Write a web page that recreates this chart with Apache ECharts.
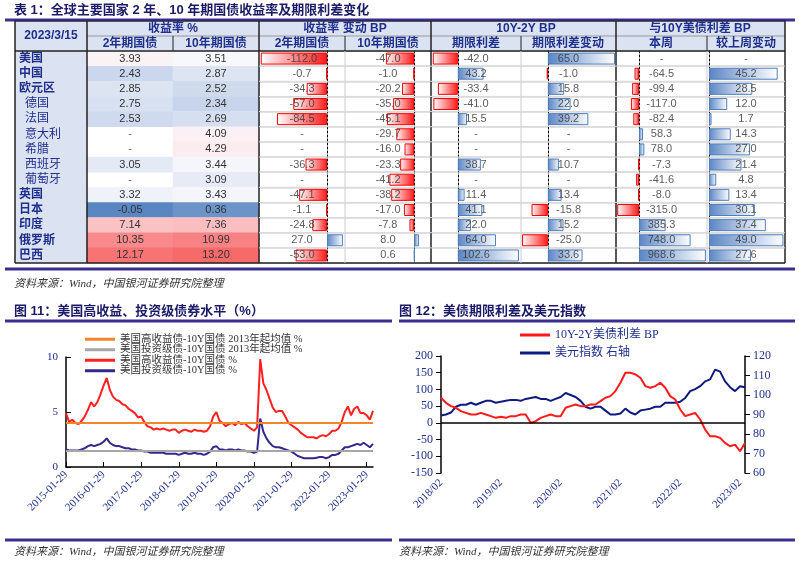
<!DOCTYPE html>
<html>
<head>
<meta charset="utf-8">
<script src="https://cdn.jsdelivr.net/npm/echarts@6/dist/echarts.min.js"></script>
<style>
  html, body { margin: 0; padding: 0; background: #fff; }
  #main { width: 799px; height: 563px; }
</style>
</head>
<body>
<div id="main"></div>
<script>
// 表1 数据
var rows = ['美国','中国','欧元区','德国','法国','意大利','希腊','西班牙','葡萄牙','英国','日本','印度','俄罗斯','巴西'];
var subRows = [3,4,5,6,7,8];
var y2 = [3.93,2.43,2.85,2.75,2.53,null,null,3.05,null,3.32,-0.05,7.14,10.35,12.17];
var y10 = [3.51,2.87,2.52,2.34,2.69,4.09,4.29,3.44,3.09,3.43,0.36,7.36,10.99,13.20];
var chg2 = [-112.0,-0.7,-34.3,-57.0,-84.5,null,null,-36.3,null,-47.1,-1.1,-24.8,27.0,-53.0];
var chg10 = [-47.0,-1.0,-20.2,-35.0,-45.1,-29.7,-16.0,-23.3,-41.2,-38.2,-17.0,-7.8,8.0,0.6];
var spread = [-42.0,43.2,-33.4,-41.0,15.5,null,null,38.7,null,11.4,41.1,22.0,64.0,102.6];
var spreadChg = [65.0,-1.0,15.8,22.0,39.2,null,null,10.7,null,13.4,-15.8,15.2,-25.0,33.6];
var vsUs = [null,-64.5,-99.4,-117.0,-82.4,58.3,78.0,-7.3,-41.6,-8.0,-315.0,385.3,748.0,968.6];
var vsUsChg = [null,45.2,28.5,12.0,1.7,14.3,27.0,21.4,4.8,13.4,30.1,37.4,49.0,27.6];

// 图11 数据 (月度, 2015-01 至 2023-03)
var hy = [4.9,4.1,4.3,4.0,3.9,4.2,4.6,5.2,5.9,5.5,5.9,6.6,
  7.4,8.1,7.0,6.4,6.1,6.0,5.7,5.6,5.3,5.1,4.9,4.5,
  4.6,4.1,3.7,3.6,3.4,3.5,3.4,3.5,3.4,3.3,3.4,3.4,
  3.1,3.3,3.4,3.3,3.2,3.4,3.3,3.3,3.2,3.3,3.7,4.6,
  5.0,4.2,4.0,3.7,3.9,4.0,3.8,4.1,3.9,4.0,3.7,3.5,
  3.3,3.6,9.8,7.6,7.0,6.2,5.4,5.0,5.1,5.1,4.6,4.0,
  3.8,3.6,3.4,3.1,2.9,2.7,2.7,2.7,2.6,2.8,2.9,2.8,
  3.0,3.3,3.3,3.5,4.1,5.0,5.5,4.7,5.3,5.5,4.9,4.9,
  4.7,4.3,5.1];
var ig = [1.6,1.5,1.5,1.5,1.5,1.6,1.7,1.9,2.0,1.9,2.0,2.1,
  2.3,2.6,2.2,2.0,1.9,1.9,1.8,1.7,1.7,1.6,1.6,1.5,
  1.5,1.4,1.4,1.3,1.3,1.3,1.3,1.3,1.2,1.2,1.2,1.2,
  1.1,1.2,1.3,1.2,1.2,1.3,1.2,1.2,1.1,1.2,1.4,1.8,
  1.9,1.6,1.6,1.5,1.6,1.6,1.5,1.6,1.5,1.5,1.4,1.4,
  1.3,1.4,4.4,3.2,2.6,2.2,1.9,1.8,1.8,1.7,1.6,1.5,
  1.4,1.2,1.0,0.9,0.8,0.8,0.8,0.8,0.85,0.9,0.9,0.8,
  0.9,1.1,1.1,1.2,1.5,1.8,1.8,1.9,2.0,2.1,2.0,2.2,
  2.0,1.8,2.1];
var hyAvg = 4.0;
var igAvg = 1.45;

// 图12 数据 (月度, 2018-02 至 2023-03)
var termSpread = [75,60,50,45,35,30,25,25,30,25,20,
  15,18,15,20,20,25,25,0,5,15,20,25,
  20,20,45,50,55,50,50,55,55,65,75,80,
  95,120,150,150,145,135,110,105,110,120,105,80,
  70,40,20,25,30,10,-20,-40,-40,-45,-60,-70,
  -65,-85,-60];
var dxy = [89.5,90,91,94,95,95,96,95,96,97,97,
  96,96.5,97,97.5,97.5,97,98,98.5,99,98,98,97,
  98,99,101,100,99,97,94,93,94,94,92,90,
  90,90.5,93,91,90,92,92.5,93,94,94,96,96,
  96,96.5,98.5,102,103,104.5,107,108,113,112,107,104,
  102,104.5,104];

function monthList(y, m, n, fmt) {
  var out = [];
  for (var i = 0; i < n; i++) {
    var mm = m + i, yy = y + Math.floor((mm - 1) / 12);
    mm = (mm - 1) % 12 + 1;
    out.push(fmt(yy, mm < 10 ? '0' + mm : '' + mm));
  }
  return out;
}
var dates11 = monthList(2015, 1, hy.length, function (y, m) { return y + '-' + m + '-29'; });
var dates12 = monthList(2018, 2, termSpread.length, function (y, m) { return y + '/' + m; });

var NAVY = '#1f2f8c';
var PURPLE = '#3a2f8f';
var CJK = '"Liberation Sans","Noto Sans CJK SC",sans-serif';
var SERIF = '"Liberation Serif","Noto Sans CJK SC",serif';

var myChart = echarts.init(document.getElementById('main'));

// 表格布局
var TOP = 51, ROWH = 212 / 14;
var barCols = [
  { data: chg2, x0: 259, x1: 345, min: -115, max: 30.5 },
  { data: chg10, x0: 345, x1: 431, min: -115, max: 28 },
  { data: spread, x0: 431, x1: 521, min: -45, max: 106 },
  { data: spreadChg, x0: 521, x1: 616, min: -26, max: 66 },
  { data: vsUs, x0: 616, x1: 707, min: -333, max: 985 },
  { data: vsUsChg, x0: 707, x1: 785, min: -1.3, max: 50 }
];

var grids = [], xAxes = [], yAxes = [], series = [];
var HIDDEN = { color: 'rgba(0,0,0,0)' };

// 收益率热力格
grids.push({ left: 87, top: TOP, width: 172, height: 212 });
xAxes.push({ type: 'category', gridIndex: 0, data: ['2年期国债','10年期国债'], show: false });
yAxes.push({
  type: 'category', gridIndex: 0, data: rows, inverse: true,
  axisLine: { show: false }, axisTick: { show: false },
  axisLabel: {
    interval: 0, align: 'left', margin: 68,
    formatter: function (v, i) { return subRows.indexOf(i) >= 0 ? '{s|' + v + '}' : '{m|' + v + '}'; },
    rich: {
      m: { fontFamily: CJK, fontSize: 12, fontWeight: 'bold', color: NAVY },
      s: { fontFamily: CJK, fontSize: 12, color: NAVY, padding: [0, 0, 0, 6] }
    }
  }
});
var heat = [], dash = [];
rows.forEach(function (r, i) {
  [y2, y10].forEach(function (arr, j) {
    if (arr[i] == null) dash.push([j, i]); else heat.push([j, i, arr[i]]);
  });
});
series.push({
  type: 'heatmap', xAxisIndex: 0, yAxisIndex: 0, data: heat,
  label: { show: true, fontFamily: CJK, fontSize: 11, color: '#333',
    formatter: function (p) { return p.value[2].toFixed(2); } }
});
series.push({
  type: 'scatter', xAxisIndex: 0, yAxisIndex: 0, data: dash, symbolSize: 1, itemStyle: HIDDEN,
  label: { show: true, position: 'inside', formatter: '-', fontFamily: CJK, fontSize: 11, color: '#333' }
});

// 数据条列
var gradNeg = new echarts.graphic.LinearGradient(0, 0, 1, 0, [{ offset: 0, color: '#ffffff' }, { offset: 1, color: '#ff1a1a' }]);
var gradPos = new echarts.graphic.LinearGradient(0, 0, 1, 0, [{ offset: 0, color: '#5a85c4' }, { offset: 1, color: '#ffffff' }]);
barCols.forEach(function (c, k) {
  var gi = k + 1;
  grids.push({ left: c.x0, top: TOP, width: c.x1 - c.x0, height: 212 });
  xAxes.push({ type: 'value', gridIndex: gi, min: c.min, max: c.max, show: false });
  yAxes.push({
    type: 'category', gridIndex: gi, data: rows, inverse: true,
    axisLabel: { show: false }, axisTick: { show: false },
    axisLine: { show: true, onZero: true, lineStyle: { color: '#000', type: [2, 2], width: 1 } },
    splitLine: { show: true, interval: 0, lineStyle: { color: '#d9d9d9', width: 1.5 } }
  });
  series.push({
    type: 'bar', xAxisIndex: gi, yAxisIndex: gi, barWidth: 12,
    data: c.data.map(function (v) {
      if (v == null) return null;
      return { value: v, itemStyle: v < 0
        ? { color: gradNeg, borderColor: '#ff0000', borderWidth: 1 }
        : { color: gradPos, borderColor: '#4f7fc0', borderWidth: 1 } };
    })
  });
  var mid = (c.min + c.max) / 2;
  series.push({
    type: 'scatter', xAxisIndex: gi, yAxisIndex: gi, symbolSize: 1, itemStyle: HIDDEN, z: 5,
    data: c.data.map(function (v, i) { return [mid, i, v == null ? '' : v]; }),
    label: { show: true, position: 'inside', fontFamily: CJK, fontSize: 11, color: '#333',
      formatter: function (p) { var v = p.value[2]; return (v === '' || v == null) ? '-' : Number(v).toFixed(1); } }
  });
});

// 图11
var g11 = grids.length;
grids.push({ left: 66, top: 357, width: 307, height: 110 });
xAxes.push({
  type: 'category', gridIndex: g11, data: dates11, boundaryGap: false,
  axisLine: { lineStyle: { color: '#000', width: 1.5 } },
  axisTick: { inside: true, interval: 11, alignWithLabel: true, lineStyle: { color: '#000' } },
  axisLabel: { interval: 11, rotate: 45, fontFamily: SERIF, fontSize: 11, color: NAVY, margin: 6 }
});
yAxes.push({
  type: 'value', gridIndex: g11, min: 0, max: 10, interval: 5,
  splitLine: { show: false },
  axisLine: { show: true, lineStyle: { color: '#000', width: 1.5 } },
  axisTick: { show: true, inside: true, lineStyle: { color: '#000' } },
  axisLabel: { fontFamily: SERIF, fontSize: 11, color: NAVY }
});
series.push(
  { name: '美国高收益债-10Y国债 2013年起均值 %', type: 'line', xAxisIndex: g11, yAxisIndex: g11, data: [],
    color: '#f4862a', lineStyle: { width: 2 },
    markLine: { symbol: 'none', silent: true, label: { show: false },
      lineStyle: { color: '#f4862a', width: 2, type: 'solid' }, data: [{ yAxis: hyAvg }] } },
  { name: '美国投资级债-10Y国债 2013年起均值 %', type: 'line', xAxisIndex: g11, yAxisIndex: g11, data: [],
    color: '#a6a6a6', lineStyle: { width: 2 },
    markLine: { symbol: 'none', silent: true, label: { show: false },
      lineStyle: { color: '#a6a6a6', width: 2, type: 'solid' }, data: [{ yAxis: igAvg }] } },
  { name: '美国高收益债-10Y国债 %', type: 'line', xAxisIndex: g11, yAxisIndex: g11, data: hy,
    color: '#ff2020', symbol: 'none', lineStyle: { width: 2 } },
  { name: '美国投资级债-10Y国债 %', type: 'line', xAxisIndex: g11, yAxisIndex: g11, data: ig,
    color: '#33288c', symbol: 'none', lineStyle: { width: 2 } }
);

// 图12
var g12 = grids.length;
grids.push({ left: 441, top: 356, width: 304, height: 117 });
xAxes.push({
  type: 'category', gridIndex: g12, data: dates12, boundaryGap: false,
  axisLine: { show: false }, axisTick: { show: false },
  axisLabel: { interval: 11, rotate: 45, fontFamily: SERIF, fontSize: 11, color: NAVY, margin: 8 }
});
yAxes.push({
  type: 'value', gridIndex: g12, min: -150, max: 200, interval: 50, splitLine: { show: false },
  axisLine: { show: true, onZero: false, lineStyle: { color: '#000', width: 1.5 } },
  axisTick: { show: true, lineStyle: { color: '#000' } },
  axisLabel: { fontFamily: SERIF, fontSize: 12, color: NAVY }
});
var y12r = yAxes.length;
yAxes.push({
  type: 'value', gridIndex: g12, position: 'right', min: 60, max: 120, interval: 10, splitLine: { show: false },
  axisLine: { show: true, onZero: false, lineStyle: { color: '#000', width: 1.5 } },
  axisTick: { show: true, lineStyle: { color: '#000' } },
  axisLabel: { fontFamily: SERIF, fontSize: 12, color: NAVY }
});
series.push(
  { name: '10Y-2Y美债利差 BP', type: 'line', xAxisIndex: g12, yAxisIndex: g12, data: termSpread,
    color: '#ff1a1a', symbol: 'none', lineStyle: { width: 2 }, z: 3,
    markLine: { symbol: 'none', silent: true, label: { show: false },
      lineStyle: { color: '#000', width: 1.5, type: 'solid' }, data: [{ yAxis: 0 }] } },
  { name: '美元指数 右轴', type: 'line', xAxisIndex: g12, yAxisIndex: y12r, data: dxy,
    color: '#0d1a80', symbol: 'none', lineStyle: { width: 2 }, z: 2 }
);

// 表格框线与文字
function ln(x1, y1, x2, y2, color, w) {
  return { type: 'line', shape: { x1: x1, y1: y1, x2: x2, y2: y2 }, style: { stroke: color, lineWidth: w }, z: 100 };
}
function tx(x, y, s, opt) {
  opt = opt || {};
  return { type: 'text', x: x, y: y, z: 101, style: {
    text: s, fill: opt.color || NAVY, textAlign: opt.align || 'center', textVerticalAlign: 'middle',
    font: (opt.style || '') + ' ' + (opt.weight || 'bold') + ' ' + (opt.size || 12) + 'px ' + (opt.family || CJK) } };
}
var gfx = [
  { type: 'rect', shape: { x: 15, y: 21, width: 770, height: 30 }, style: { fill: '#dbe2f1' }, z: -1 },
  { type: 'rect', shape: { x: 15, y: 51, width: 72, height: 212 }, style: { fill: '#dbe2f1' }, z: -1 },
  ln(5, 20, 795, 20, PURPLE, 3),
  ln(15, 21, 785, 21, '#222', 1), ln(87, 36, 785, 36, '#999', 1),
  ln(15, 51, 785, 51, '#222', 1.5), ln(15, 263, 785, 263, '#222', 1.5),
  ln(5, 269, 795, 269, PURPLE, 3),
  ln(5, 321, 392, 321, PURPLE, 3), ln(399, 321, 795, 321, PURPLE, 3),
  ln(5, 540, 392, 540, PURPLE, 3), ln(399, 540, 795, 540, PURPLE, 3),
  tx(14, 10, '表 1：全球主要国家 2 年、10 年期国债收益率及期限利差变化', { align: 'left', size: 13, color: '#1a1a66' }),
  tx(14, 311, '图 11：美国高收益、投资级债券水平（%）', { align: 'left', size: 13, color: '#1a1a66' }),
  tx(399, 311, '图 12：美债期限利差及美元指数', { align: 'left', size: 13, color: '#1a1a66' }),
  tx(14, 284, '资料来源：Wind，中国银河证券研究院整理', { align: 'left', size: 11, weight: 'normal', style: 'italic', color: '#333', family: SERIF }),
  tx(14, 552, '资料来源：Wind，中国银河证券研究院整理', { align: 'left', size: 11, weight: 'normal', style: 'italic', color: '#333', family: SERIF }),
  tx(399, 552, '资料来源：Wind，中国银河证券研究院整理', { align: 'left', size: 11, weight: 'normal', style: 'italic', color: '#333', family: SERIF }),
  tx(51, 36, '2023/3/15'),
  tx(173, 29, '收益率 %'), tx(345, 29, '收益率 变动 BP'), tx(526, 29, '10Y-2Y BP'), tx(700, 29, '与10Y美债利差 BP'),
  tx(130, 44, '2年期国债'), tx(216, 44, '10年期国债'), tx(302, 44, '2年期国债'), tx(388, 44, '10年期国债'),
  tx(476, 44, '期限利差'), tx(568, 44, '期限利差变动'), tx(661, 44, '本周'), tx(746, 44, '较上周变动')
];
[15, 87, 259, 431, 616, 785].forEach(function (x) { gfx.push(ln(x, 21, x, 263, '#222', 1.5)); });
[173, 345, 521, 707].forEach(function (x) { gfx.push(ln(x, 36, x, 51, '#222', 1)); });
[345, 521, 707].forEach(function (x) { gfx.push(ln(x, 51, x, 263, '#ccc', 1)); });
for (var r = 1; r < rows.length; r++) {
  gfx.push(ln(259, TOP + r * ROWH, 785, TOP + r * ROWH, '#dadada', 1));
}

var option = {
  animation: false,
  grid: grids,
  xAxis: xAxes,
  yAxis: yAxes,
  visualMap: {
    show: false, seriesIndex: 0, dimension: 2, min: -0.05, max: 13.2,
    inRange: { color: ['#5a86c2','#93afd8','#c8d5eb','#f9fafd','#fde4e5','#fcd3d5','#fbc1c3',
      '#faabad','#f99597','#f88486','#f77576','#f66a6a'] }
  },
  legend: [
    { data: ['美国高收益债-10Y国债 2013年起均值 %','美国投资级债-10Y国债 2013年起均值 %','美国高收益债-10Y国债 %','美国投资级债-10Y国债 %'],
      left: 80, top: 329, orient: 'vertical', itemGap: 0, itemWidth: 30, itemHeight: 3,
      icon: 'rect', textStyle: { fontFamily: SERIF, fontSize: 10.5, lineHeight: 10, color: '#333' } },
    { data: ['10Y-2Y美债利差 BP','美元指数 右轴'], left: 515, top: 324, orient: 'vertical', itemGap: 6,
      itemWidth: 30, itemHeight: 3, icon: 'rect',
      textStyle: { fontFamily: SERIF, fontSize: 12, color: NAVY } }
  ],
  series: series,
  graphic: gfx
};
myChart.setOption(option);
</script>
</body>
</html>
